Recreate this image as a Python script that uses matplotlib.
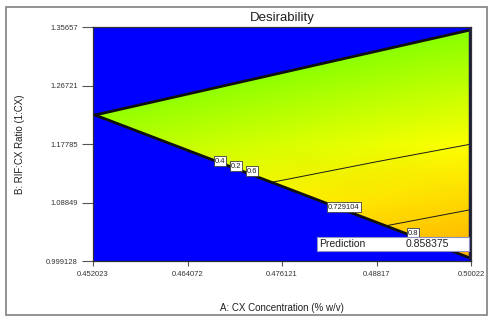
import matplotlib
matplotlib.use("Agg")
import matplotlib.pyplot as plt
from matplotlib.colors import LinearSegmentedColormap
from matplotlib.patches import Polygon, Rectangle
import numpy as np

plt.rcParams['font.family'] = ['Liberation Sans', 'DejaVu Sans']

# axis ticks (A: CX concentration, B: RIF:CX ratio)
x_ticks = [0.452023, 0.464072, 0.476121, 0.48817, 0.50022]
y_ticks = [0.999128, 1.08849, 1.17785, 1.26721, 1.35657]
x_tick_labels = ["0.452023", "0.464072", "0.476121", "0.48817", "0.50022"]
y_tick_labels = ["0.999128", "1.08849", "1.17785", "1.26721", "1.35657"]

# desirability read at the tick grid (rows = B from low to high, cols = A)
desirability = [
    [0.777, 0.797, 0.816, 0.836, 0.858],
    [0.714, 0.734, 0.753, 0.773, 0.792],
    [0.651, 0.670, 0.690, 0.710, 0.729],
    [0.588, 0.607, 0.627, 0.646, 0.666],
    [0.524, 0.544, 0.564, 0.583, 0.603],
]

# feasible design region (outside = desirability 0)
region_x = [0.452278, 0.50010, 0.50010]
region_y = [1.22214, 1.35198, 1.00371]

contour_levels = [0.729104, 0.8]

# contour labels sitting on the lower boundary
label_text = ["0.4", "0.2", "0.6", "0.729104", "0.8"]
label_x = [0.46822, 0.47026, 0.47230, 0.48403, 0.49282]
label_y = [1.15188, 1.14424, 1.13660, 1.08161, 1.04190]

prediction = 0.858375

cmap = LinearSegmentedColormap.from_list(
    "desire", [(0.0, "#0000ff"), (0.47, "#00ff00"), (0.73, "#ffff00"), (1.0, "#ff5000")])

fig = plt.figure(figsize=(4.94, 3.22), dpi=100)
fig.patches.append(Rectangle((0.0121, 0.0217), 0.9737, 0.9565, transform=fig.transFigure,
                             fill=False, edgecolor="#808080", linewidth=1.2))
ax = fig.add_axes([0.1883, 0.1894, 0.7652, 0.7267])
ax.set_facecolor("#0000ff")

X, Y = np.meshgrid(x_ticks, y_ticks)
D = np.array(desirability)

clip = Polygon(list(zip(region_x, region_y)), closed=True, transform=ax.transData)
mesh = ax.pcolormesh(X, Y, D, shading="gouraud", cmap=cmap, vmin=0, vmax=1)
mesh.set_clip_path(clip)
cs = ax.contour(X, Y, D, levels=contour_levels, colors="#1a1a1a", linewidths=0.7)
cs.set_clip_path(clip)

# region boundary
ax.plot(region_x[:2], region_y[:2], color="#101010", lw=2, solid_capstyle="round")
ax.plot([region_x[0], region_x[2]], [region_y[0], region_y[2]], color="#101010", lw=2)
ax.plot(region_x[1:], region_y[1:], color="#1c1c48", lw=2.5)

for t, lx, ly in zip(label_text, label_x, label_y):
    ax.text(lx, ly, t, fontsize=5.5, ha="center", va="center", color="#202020",
            bbox=dict(boxstyle="square,pad=0.15", facecolor="white", edgecolor="#404040", linewidth=0.6))

ax.add_patch(Rectangle((0.5926, 0.0427), 0.4021, 0.0599, transform=ax.transAxes,
                       facecolor="white", edgecolor="#9090c8", linewidth=0.8, zorder=5))
ax.text(0.598, 0.0726, "Prediction", transform=ax.transAxes, fontsize=7.5,
        va="center", ha="left", color="#202020", zorder=6)
ax.text(0.828, 0.0726, f"{prediction}", transform=ax.transAxes, fontsize=7.5,
        va="center", ha="left", color="#202020", zorder=6)

ax.set_xlim(x_ticks[0], x_ticks[-1])
ax.set_ylim(y_ticks[0], y_ticks[-1])
ax.set_xticks(x_ticks)
ax.set_xticklabels(x_tick_labels)
ax.set_yticks(y_ticks)
ax.set_yticklabels(y_tick_labels)
ax.tick_params(axis="x", length=3.6, width=0.8, pad=3.5, labelsize=5.5, labelcolor="#333333", color="#555555")
ax.tick_params(axis="y", length=8, width=0.8, pad=3, labelsize=5.5, labelcolor="#333333", color="#555555")
for s in ax.spines.values():
    s.set_color("#303030")
    s.set_linewidth(0.9)

ax.set_title("Desirability", fontsize=9.5, color="#202020", pad=4)
ax.set_xlabel("A: CX Concentration (% w/v)", fontsize=7, color="#202020", labelpad=18)
ax.set_ylabel("B: RIF:CX Ratio (1:CX)", fontsize=7, color="#202020", labelpad=15)

fig.savefig("out.png", dpi=100)
